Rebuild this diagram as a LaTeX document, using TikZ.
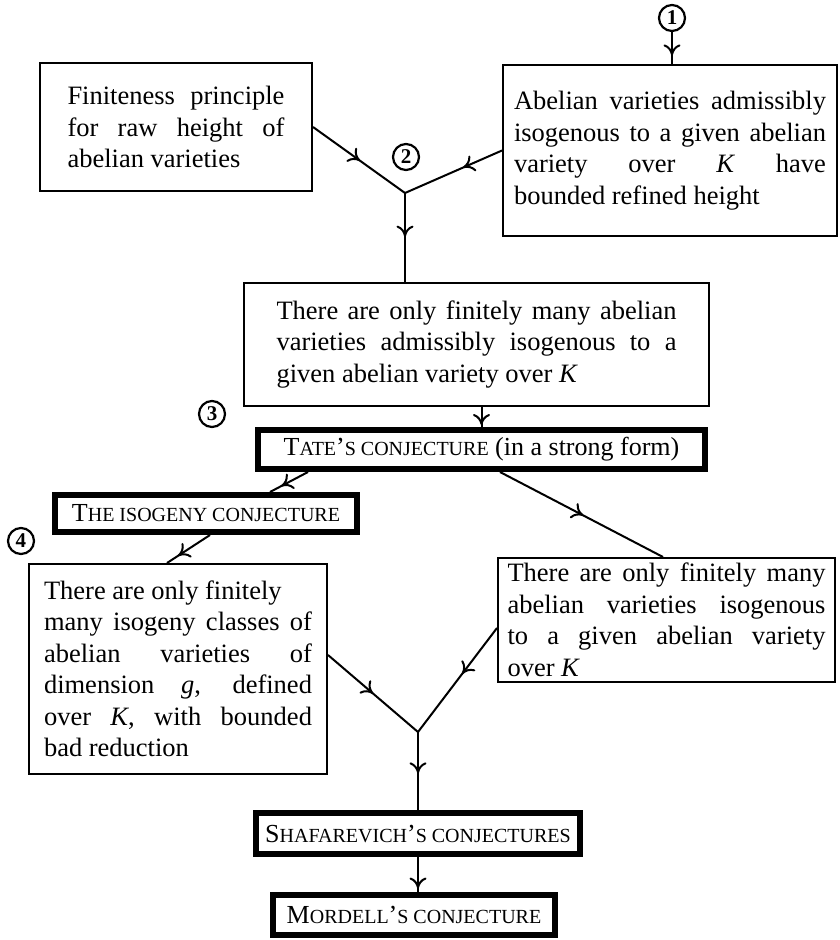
\documentclass[tikz,border=0pt]{standalone}
\usepackage{fontspec}
\setmainfont{Liberation Serif}
\usetikzlibrary{arrows.meta,decorations.markings}
\tolerance=10000
\hbadness=10000
\newcommand\smallcap[1]{{\fontsize{20}{20}\selectfont #1}}

\tikzset{
  cmarr/.tip={Computer Modern Rightarrow[length=11pt,width=17pt,line width=2pt]},
  plainbox/.style={draw,line width=2pt,inner sep=0pt,align=justify,font=\fontsize{26.5}{31.5}\selectfont},
  heavybox/.style={draw,line width=6pt,inner sep=0pt,font=\fontsize{26}{30}\selectfont},
  numcirc/.style={draw,circle,line width=2.2pt,inner sep=0pt,minimum size=26pt,font=\fontsize{21}{21}\selectfont\bfseries},
  midarrow/.style={line width=2pt,postaction={decorate},decoration={markings,mark=at position #1 with {\arrow{cmarr}}}}
}

\begin{document}
\begin{tikzpicture}[x=1pt,y=-1pt]
\useasboundingbox (0,0) rectangle (839,940);

\node [plainbox,anchor=north west,minimum width=272pt,minimum height=128pt,text width=217pt](raw) at (39,62) {Finiteness principle\linebreak for raw height of\linebreak abelian varieties};
\node [plainbox,anchor=north west,minimum width=334pt,minimum height=171pt,text width=312pt](refined) at (502,64) {Abelian varieties admissibly\linebreak isogenous to a given abelian\linebreak variety over \textit{K} have\linebreak bounded refined height};
\node [plainbox,anchor=north west,minimum width=465pt,minimum height=123pt,text width=400pt](finite) at (243,282) {There are only finitely many abelian\linebreak varieties admissibly isogenous to a\linebreak given abelian variety over \textit{K}};

\node [heavybox,anchor=north west,minimum width=447pt,minimum height=39pt](tate) at (255,427) {T\smallcap{ATE}’\smallcap{S CONJECTURE} (in a strong form)};
\node [heavybox,anchor=north west,minimum width=302pt,minimum height=37pt](iso) at (52,492) {T\smallcap{HE ISOGENY CONJECTURE}};

\node [plainbox,anchor=north west,minimum width=298pt,minimum height=210pt,text width=268pt](classes) at (28,563) {There are only finitely\hfil\break many isogeny classes of\linebreak abelian varieties of\linebreak dimension \textit{g}, defined\linebreak over \textit{K}, with bounded\linebreak bad reduction};
\node [plainbox,anchor=north west,minimum width=337pt,minimum height=124pt,text width=318pt](only) at (497,557) {There are only finitely many\linebreak abelian varieties isogenous\linebreak to a given abelian variety\linebreak over \textit{K}};

\node [heavybox,anchor=north west,minimum width=324pt,minimum height=41pt](shaf) at (253,810) {S\smallcap{HAFAREVICH}’\smallcap{S CONJECTURES}};
\node [heavybox,anchor=north west,minimum width=282pt,minimum height=40pt](mord) at (270,892) {M\smallcap{ORDELL}’\smallcap{S CONJECTURE}};

% circled numbers
\node [numcirc](one) at (672,18) {1};
\node [numcirc](two) at (406,157) {2};
\node [numcirc](three) at (212,414) {3};
\node [numcirc](four) at (21,541) {4};

\coordinate (meet1) at (405,193);
\coordinate (meet2) at (418,732);

\draw [midarrow=0.73](one.south)--(one.south |- refined.north);
\draw [midarrow=0.51](raw.east)--(meet1);
\draw [midarrow=0.4](refined.west)--(meet1);
\draw [midarrow=0.49](meet1)--(meet1 |- finite.north);
\draw [midarrow=0.9](tate.north |- finite.south)--(tate.north);

\draw [midarrow=0.7]([xshift=53pt]tate.south west)--([xshift=-90pt]iso.north east);
\draw [midarrow=0.51]([xshift=245pt]tate.south west)--([xshift=166pt]only.north west);
\draw [midarrow=0.74]([xshift=158pt]iso.south west)--([xshift=139pt]classes.north west);

\draw [midarrow=0.5]([yshift=14pt]classes.east)--(meet2);
\draw [midarrow=0.44]([yshift=-8pt]only.west)--(meet2);
\draw [midarrow=0.53](meet2)--(meet2 |- shaf.north);
\draw [midarrow=0.9](shaf.south)--(shaf.south |- mord.north);

\end{tikzpicture}
\end{document}
